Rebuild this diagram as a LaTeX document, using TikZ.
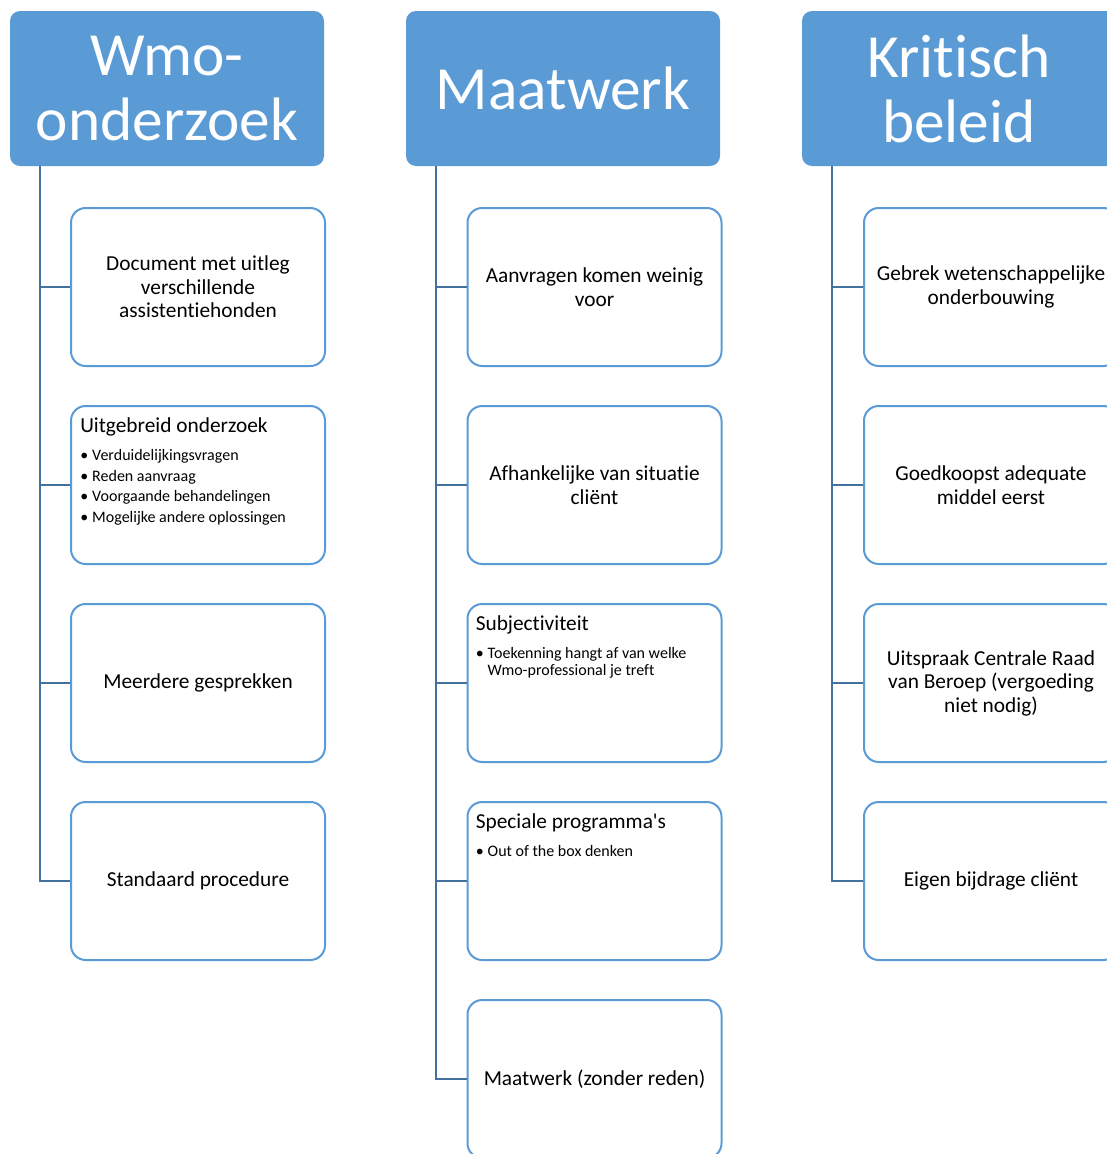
\documentclass[tikz,border=0pt]{standalone}
\usepackage{fontspec}
\setmainfont[Ligatures={TeX,NoCommon}]{Carlito}
\definecolor{hdrblue}{HTML}{5B9BD5}
\definecolor{lnkblue}{HTML}{41719C}
\newcommand{\bodyfont}{\fontsize{16}{17.6}\selectfont}
\newcommand{\smallfont}{\fontsize{12}{12.8}\selectfont}
\begin{document}
\begin{tikzpicture}[x=0.75pt,y=-0.75pt,
  hdrbox/.style={fill=hdrblue, draw=none, rounded corners=7.5pt, minimum width=235.5pt, minimum height=116.25pt, inner sep=0pt, text=white, font=\fontsize{46}{48.75}\selectfont, align=center},
  itembox/.style={draw=hdrblue, line width=1.5pt, rounded corners=11pt, fill=white, minimum width=190.5pt, minimum height=118.5pt, inner sep=0pt, align=center, font=\bodyfont},
  conn/.style={draw=lnkblue, line width=1.6pt},
  inner/.style={anchor=north west, inner sep=0pt, align=left, font=\bodyfont}
]
\useasboundingbox (0,0) rectangle (1107,1154);

% headers
\node[hdrbox] (h1) at (167,88.5) {Wmo-\\onderzoek};
\node[hdrbox] (h2) at (563,88.5) {Maatwerk};
\node[hdrbox] (h3) at (959,88.5) {Kritisch\\beleid};

% column 1
\node[itembox] (a1) at (198,287) {Document met uitleg\\verschillende\\assistentiehonden};
\node[itembox] (a2) at (198,485) {};
\node[itembox] (a3) at (198,683) {Meerdere gesprekken};
\node[itembox] (a4) at (198,881) {Standaard procedure};

% column 2
\node[itembox] (b1) at (594.5,287) {Aanvragen komen weinig\\voor};
\node[itembox] (b2) at (594.5,485) {Afhankelijke van situatie\\cliënt};
\node[itembox] (b3) at (594.5,683) {};
\node[itembox] (b4) at (594.5,881) {};
\node[itembox] (b5) at (594.5,1079) {Maatwerk (zonder reden)};

% column 3
\node[itembox] (c1) at (991,287) {Gebrek wetenschappelijke\\onderbouwing};
\node[itembox] (c2) at (991,485) {Goedkoopst adequate\\middel eerst};
\node[itembox] (c3) at (991,683) {Uitspraak Centrale Raad\\van Beroep (vergoeding\\niet nodig)};
\node[itembox] (c4) at (991,881) {Eigen bijdrage cliënt};

% texts with bullets
\node[inner] (a2t) at ([shift={(10,12)}]a2.north west) {Uitgebreid onderzoek\\[4pt]
  {\smallfont\renewcommand{\arraystretch}{1.2}\begin{tabular}[t]{@{}l@{\hspace{3pt}}l@{}}
  \textbullet & Verduidelijkingsvragen\\
  \textbullet & Reden aanvraag\\
  \textbullet & Voorgaande behandelingen\\
  \textbullet & Mogelijke andere oplossingen
  \end{tabular}}};
\node[inner] (b3t) at ([shift={(9,12)}]b3.north west) {Subjectiviteit\\[4pt]
  {\smallfont\begin{tabular}[t]{@{}l@{\hspace{3pt}}l@{}}
  \textbullet & Toekenning hangt af van welke\\
  & Wmo-professional je treft
  \end{tabular}}};
\node[inner] (b4t) at ([shift={(9,12)}]b4.north west) {Speciale programma\textquotesingle s\\[4pt]
  {\smallfont\begin{tabular}[t]{@{}l@{\hspace{3pt}}l@{}}
  \textbullet & Out of the box denken
  \end{tabular}}};

% connectors
\coordinate (t1) at ([xshift=22.5pt]h1.south west);
\coordinate (t2) at ([xshift=22.5pt]h2.south west);
\coordinate (t3) at ([xshift=22.5pt]h3.south west);
\foreach \n in {a1,a2,a3,a4} \draw[conn] (t1) |- (\n.west);
\foreach \n in {b1,b2,b3,b4,b5} \draw[conn] (t2) |- (\n.west);
\foreach \n in {c1,c2,c3,c4} \draw[conn] (t3) |- (\n.west);
\end{tikzpicture}
\end{document}
